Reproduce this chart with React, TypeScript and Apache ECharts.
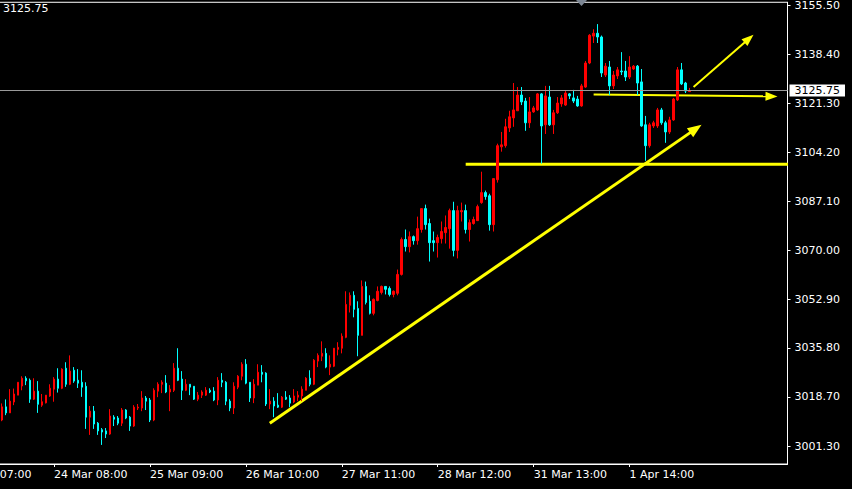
import React, { useEffect, useRef } from 'react';
import * as echarts from 'echarts';

// Hourly XAUUSD-style candles (prices)
const opens = [
  3010.6, 3015.2, 3013.1, 3016.9, 3019.3, 3022.5, 3025.2, 3024.5, 3017.9, 3020.7,
  3015.8, 3016.6, 3019.0, 3021.4, 3024.9, 3021.7, 3028.7, 3023.1, 3028.0, 3024.5,
  3023.8, 3022.4, 3011.6, 3013.7, 3009.5, 3007.2, 3006.8, 3005.7, 3011.6, 3011.3,
  3009.5, 3014.1, 3011.6, 3008.5, 3014.8, 3014.8, 3018.3, 3017.6, 3010.6, 3020.7,
  3023.1, 3023.5, 3020.4, 3021.0, 3028.7, 3024.9, 3021.0, 3023.1, 3022.4, 3017.9,
  3019.3, 3019.3, 3021.0, 3020.7, 3017.6, 3024.5, 3023.8, 3017.2, 3014.8, 3022.1,
  3025.9, 3030.1, 3023.8, 3018.3, 3022.8, 3027.3, 3027.0, 3016.2, 3017.2, 3015.8,
  3015.1, 3018.6, 3018.3, 3016.9, 3018.6, 3019.0, 3021.0, 3025.2, 3023.1, 3031.2,
  3032.9, 3033.9, 3029.1, 3029.4, 3035.3, 3035.7, 3039.5, 3050.7, 3054.2, 3049.6,
  3040.2, 3057.3, 3052.1, 3047.9, 3052.4, 3055.2, 3057.3, 3056.6, 3054.5, 3054.9,
  3061.5, 3073.7, 3071.2, 3074.7, 3073.3, 3077.2, 3084.5, 3079.3, 3073.3, 3072.6,
  3074.0, 3076.1, 3077.5, 3083.8, 3069.9, 3083.4, 3083.8, 3077.2, 3079.3, 3080.3,
  3086.6, 3090.1, 3089.0, 3078.9, 3094.6, 3106.1, 3106.5, 3112.7, 3116.2, 3118.7,
  3124.2, 3122.1, 3114.5, 3118.3, 3119.0, 3124.6, 3113.8, 3123.5, 3113.8, 3118.0,
  3121.1, 3120.7, 3124.6, 3123.2, 3122.8, 3120.4, 3127.0, 3135.4, 3144.8, 3145.8,
  3144.5, 3131.2, 3134.0, 3127.4, 3130.9, 3132.6, 3132.6, 3130.5, 3133.3, 3134.3,
  3128.8, 3113.8, 3106.5, 3113.4, 3113.4, 3119.0, 3114.5, 3111.3, 3115.5, 3122.5,
  3133.0, 3128.4, 3125.4,
];
const closes = [
  3015.2, 3013.1, 3017.2, 3019.7, 3023.8, 3025.2, 3024.3, 3017.9, 3020.7, 3016.1,
  3017.0, 3019.3, 3021.7, 3024.9, 3021.7, 3028.4, 3023.1, 3027.7, 3024.2, 3023.5,
  3022.1, 3011.6, 3013.7, 3009.2, 3006.8, 3006.4, 3005.7, 3012.0, 3010.9, 3009.5,
  3014.1, 3011.3, 3008.5, 3015.1, 3015.1, 3018.3, 3017.2, 3010.6, 3021.0, 3023.1,
  3023.8, 3020.4, 3021.4, 3028.7, 3024.5, 3021.0, 3023.1, 3022.1, 3017.9, 3019.3,
  3020.4, 3021.0, 3020.4, 3017.6, 3024.5, 3023.8, 3017.2, 3014.8, 3022.4, 3025.9,
  3030.1, 3023.5, 3018.3, 3023.1, 3027.3, 3026.6, 3016.2, 3017.2, 3015.5, 3015.1,
  3018.6, 3017.9, 3016.5, 3019.0, 3019.3, 3021.4, 3025.2, 3023.1, 3031.5, 3033.2,
  3033.9, 3029.1, 3030.1, 3035.7, 3036.0, 3039.9, 3051.0, 3054.2, 3049.3, 3040.2,
  3057.3, 3051.7, 3047.9, 3052.8, 3055.6, 3057.3, 3056.3, 3054.5, 3055.6, 3061.5,
  3073.7, 3071.2, 3074.7, 3073.3, 3077.5, 3084.5, 3078.9, 3072.6, 3072.6, 3074.4,
  3076.5, 3077.9, 3083.8, 3069.9, 3083.8, 3083.8, 3077.2, 3079.6, 3080.7, 3085.2,
  3090.1, 3088.7, 3078.9, 3095.0, 3106.5, 3106.8, 3113.1, 3116.6, 3119.0, 3124.2,
  3121.8, 3114.5, 3118.3, 3119.7, 3124.6, 3113.4, 3123.9, 3113.8, 3118.0, 3121.4,
  3123.2, 3124.9, 3123.9, 3122.1, 3120.4, 3127.4, 3135.4, 3145.1, 3145.8, 3144.5,
  3131.9, 3134.3, 3127.4, 3131.2, 3133.0, 3132.3, 3130.5, 3134.0, 3134.3, 3128.4,
  3113.4, 3106.5, 3113.8, 3114.5, 3119.0, 3114.5, 3111.3, 3115.5, 3122.8, 3133.0,
  3128.1, 3125.6, 3125.75,
];
const lows = [
  3010.2, 3012.3, 3013.1, 3015.8, 3019.3, 3021.0, 3022.8, 3016.6, 3017.6, 3013.1,
  3015.2, 3016.4, 3018.7, 3017.0, 3020.2, 3021.4, 3022.2, 3022.8, 3023.6, 3021.8,
  3018.7, 3007.5, 3005.4, 3007.5, 3005.4, 3001.9, 3004.3, 3005.4, 3008.5, 3008.8,
  3008.5, 3010.9, 3006.8, 3008.2, 3014.1, 3013.7, 3014.1, 3009.9, 3010.2, 3018.6,
  3020.0, 3020.0, 3013.7, 3020.4, 3024.2, 3017.6, 3020.7, 3019.3, 3017.6, 3017.2,
  3018.3, 3019.0, 3020.0, 3017.2, 3015.8, 3022.1, 3015.8, 3013.7, 3012.7, 3021.4,
  3024.5, 3023.1, 3016.9, 3016.5, 3022.8, 3023.8, 3015.5, 3014.4, 3011.6, 3014.8,
  3014.8, 3017.6, 3015.1, 3016.5, 3017.2, 3017.2, 3021.0, 3022.4, 3022.8, 3029.1,
  3031.2, 3028.7, 3026.3, 3029.1, 3033.2, 3033.9, 3039.2, 3048.2, 3046.5, 3032.9,
  3040.2, 3051.0, 3047.5, 3047.2, 3052.1, 3054.5, 3054.5, 3053.8, 3053.5, 3054.2,
  3061.1, 3069.5, 3069.2, 3071.9, 3071.9, 3076.1, 3077.2, 3066.0, 3069.5, 3067.4,
  3072.3, 3072.3, 3070.5, 3067.8, 3067.1, 3080.0, 3075.8, 3073.0, 3078.9, 3080.3,
  3086.2, 3087.6, 3076.8, 3076.5, 3093.6, 3104.4, 3105.8, 3111.3, 3113.1, 3118.7,
  3120.7, 3111.7, 3112.7, 3118.0, 3118.7, 3100.2, 3110.6, 3113.4, 3110.6, 3117.6,
  3120.1, 3120.4, 3122.8, 3121.4, 3120.1, 3120.1, 3126.7, 3135.0, 3142.4, 3142.4,
  3130.5, 3130.5, 3124.2, 3126.3, 3129.8, 3131.2, 3129.1, 3129.8, 3133.0, 3124.2,
  3113.1, 3101.2, 3105.8, 3112.7, 3112.7, 3113.8, 3107.5, 3110.6, 3115.2, 3122.1,
  3127.7, 3124.9, 3125.3,
];
const highs = [
  3016.4, 3017.8, 3021.4, 3021.6, 3023.8, 3025.9, 3025.9, 3025.1, 3025.2, 3024.2,
  3019.7, 3019.3, 3023.1, 3025.6, 3028.7, 3028.7, 3030.8, 3033.2, 3029.1, 3028.4,
  3028.0, 3023.8, 3015.5, 3015.5, 3009.9, 3007.8, 3007.8, 3014.4, 3012.3, 3012.0,
  3014.8, 3014.4, 3012.0, 3015.8, 3016.2, 3020.7, 3019.0, 3018.3, 3021.7, 3023.8,
  3024.5, 3026.3, 3022.8, 3030.5, 3035.7, 3027.7, 3024.9, 3023.1, 3022.4, 3020.4,
  3021.0, 3022.1, 3021.7, 3022.1, 3025.6, 3027.0, 3024.2, 3017.9, 3023.8, 3026.3,
  3030.8, 3031.9, 3023.8, 3024.9, 3030.1, 3029.8, 3027.3, 3021.4, 3018.6, 3020.0,
  3019.0, 3020.7, 3019.3, 3021.4, 3020.7, 3022.4, 3025.6, 3028.0, 3031.9, 3033.9,
  3038.1, 3035.7, 3033.2, 3035.7, 3037.8, 3040.9, 3055.6, 3055.2, 3055.6, 3052.1,
  3059.4, 3059.0, 3054.2, 3053.1, 3057.3, 3057.6, 3057.3, 3057.3, 3055.9, 3063.2,
  3074.4, 3077.2, 3076.5, 3075.1, 3081.7, 3084.5, 3085.9, 3081.0, 3076.5, 3075.4,
  3080.0, 3082.1, 3084.5, 3086.9, 3085.5, 3086.6, 3085.9, 3080.7, 3081.7, 3085.9,
  3097.4, 3090.8, 3089.7, 3095.0, 3107.2, 3111.3, 3115.9, 3118.7, 3128.4, 3127.0,
  3127.0, 3123.2, 3123.5, 3120.4, 3124.9, 3124.9, 3127.4, 3127.4, 3119.0, 3123.5,
  3124.2, 3125.6, 3124.9, 3126.0, 3123.9, 3128.1, 3136.1, 3145.5, 3147.2, 3149.0,
  3145.0, 3135.4, 3136.1, 3132.6, 3134.0, 3139.2, 3136.1, 3137.8, 3134.7, 3134.7,
  3133.3, 3116.9, 3114.5, 3115.2, 3119.7, 3119.7, 3115.2, 3116.6, 3123.2, 3134.0,
  3135.4, 3128.8, 3126.7,
];

// Axis labels
const xTickLabels = [
  '21 Mar 07:00', '24 Mar 08:00', '25 Mar 09:00', '26 Mar 10:00',
  '27 Mar 11:00', '28 Mar 12:00', '31 Mar 13:00', '1 Apr 14:00',
];
const barsPerLabel = 24;
const leadingSlots = 11; // bars before the first visible candle (off screen)
const totalSlots = 208;
const yTickValues = [3001.3, 3018.7, 3035.8, 3052.9, 3070.0, 3087.1, 3104.2, 3121.3, 3138.4, 3155.5];
const yMin = 2995.23;
const yMax = 3156.63;
const currentPrice = 3125.75;

// Hand-drawn annotations: [barIndex, price] start and end
const annotationStarts = [[67, 3009.5], [116, 3100.0], [148, 3124.4], [173, 3127.0]];
const annotationEnds = [[175, 3113.8], [197, 3100.0], [194, 3123.7], [188, 3145.3]];

const FONT = 'DejaVu Sans';
const SHIFT = 45; // the chart canvas starts 45px left of the page
const annotationLook = [
  { width: 3, arrow: true },
  { width: 3, arrow: false },
  { width: 2, arrow: true },
  { width: 2, arrow: true },
];

export default function App() {
  const ref = useRef<HTMLDivElement>(null);
  useEffect(() => {
    if (!ref.current) return;
    const chart = echarts.init(ref.current, null, { renderer: 'svg' });

    const categories: string[] = [];
    for (let k = 0; k < totalSlots; k++) {
      const li = k / barsPerLabel;
      categories.push(k % barsPerLabel === 0 && li < xTickLabels.length ? xTickLabels[li] : '');
    }
    const candleData: any[] = [];
    for (let k = 0; k < leadingSlots; k++) candleData.push('-');
    for (let i = 0; i < opens.length; i++) {
      candleData.push([opens[i], closes[i], lows[i], highs[i]]);
    }
    const annData = annotationStarts.map((s, i) => [
      s[0] + leadingSlots, s[1], annotationEnds[i][0] + leadingSlots, annotationEnds[i][1],
    ]);
    const showAt = (_i: number, v: string) => v !== '';

    chart.setOption({
      animation: false,
      backgroundColor: '#000000',
      grid: {
        left: 0.5, right: 64.5, top: 1, bottom: 25,
        show: true, borderColor: '#ffffff', borderWidth: 1, backgroundColor: 'transparent',
      },
      xAxis: {
        type: 'category',
        data: categories,
        boundaryGap: true,
        axisLine: { show: true, lineStyle: { color: '#ffffff', width: 1 } },
        axisTick: { show: true, alignWithLabel: true, interval: showAt, length: 3, lineStyle: { color: '#ffffff' } },
        axisLabel: {
          show: true, interval: showAt, align: 'left', color: '#ffffff',
          fontSize: 11, fontFamily: FONT, margin: 5,
        },
        splitLine: { show: false },
      },
      yAxis: {
        type: 'value',
        position: 'right',
        min: yMin,
        max: yMax,
        scale: true,
        axisLine: { show: true, lineStyle: { color: '#ffffff', width: 1 } },
        axisTick: { show: true, length: 3, customValues: yTickValues, lineStyle: { color: '#ffffff' } },
        axisLabel: {
          show: true, customValues: yTickValues, color: '#ffffff', fontSize: 11, fontFamily: FONT, margin: 7,
          formatter: (v: number) => v.toFixed(2),
        },
        splitLine: { show: false },
      },
      graphic: [
        {
          type: 'text', left: SHIFT + 3, top: 3, silent: true,
          style: { text: currentPrice.toFixed(2), fill: '#ffffff', font: `11px "${FONT}"` },
        },
        {
          type: 'polygon', silent: true,
          shape: { points: [[SHIFT + 576, 0], [SHIFT + 587, 0], [SHIFT + 581.5, 6]] },
          style: { fill: '#7d8794' },
        },
      ],
      series: [
        {
          type: 'candlestick',
          data: candleData,
          barWidth: 2,
          silent: true,
          itemStyle: {
            color: '#ff0000', color0: '#00ffff',
            borderColor: '#ff0000', borderColor0: '#00ffff', borderWidth: 1,
          },
          markLine: {
            silent: true,
            symbol: ['none', 'none'],
            lineStyle: { color: '#9a9a9a', width: 1, type: 'solid' },
            label: {
              show: true, position: 'end', distance: 2,
              formatter: () => currentPrice.toFixed(2),
              color: '#000000', backgroundColor: '#ffffff', padding: [1, 5, 0, 5],
              fontSize: 11, fontFamily: FONT,
            },
            data: [{ yAxis: currentPrice }],
          },
        },
        {
          type: 'custom',
          silent: true,
          clip: true,
          data: annData,
          encode: { x: [0, 2], y: [1, 3] },
          renderItem: (params: any, api: any) => {
            const look = annotationLook[params.dataIndex];
            const p1 = api.coord([api.value(0), api.value(1)]);
            const p2 = api.coord([api.value(2), api.value(3)]);
            const children: any[] = [];
            const dx = p2[0] - p1[0];
            const dy = p2[1] - p1[1];
            const len = Math.hypot(dx, dy) || 1;
            const ux = dx / len;
            const uy = dy / len;
            const L = look.width === 3 ? 14 : 12;
            const W = look.width === 3 ? 5.5 : 4.5;
            const endX = look.arrow ? p2[0] - ux * (L - 2) : p2[0];
            const endY = look.arrow ? p2[1] - uy * (L - 2) : p2[1];
            children.push({
              type: 'line',
              shape: { x1: p1[0], y1: p1[1], x2: endX, y2: endY },
              style: { stroke: '#ffff00', lineWidth: look.width },
            });
            if (look.arrow) {
              const bx = p2[0] - ux * L;
              const by = p2[1] - uy * L;
              children.push({
                type: 'polygon',
                shape: { points: [[p2[0], p2[1]], [bx - uy * W, by + ux * W], [bx + uy * W, by - ux * W]] },
                style: { fill: '#ffff00' },
              });
            }
            return { type: 'group', children };
          },
        },
      ],
    });
    return () => chart.dispose();
  }, []);
  return (
    <div style={{ position: 'fixed', left: 0, top: 0, width: 852, height: 489, overflow: 'hidden', background: '#000' }}>
      <div
        ref={ref}
        style={{ position: 'absolute', left: -SHIFT, top: 0, width: 852 + SHIFT, height: 489 }}
      />
    </div>
  );
}
